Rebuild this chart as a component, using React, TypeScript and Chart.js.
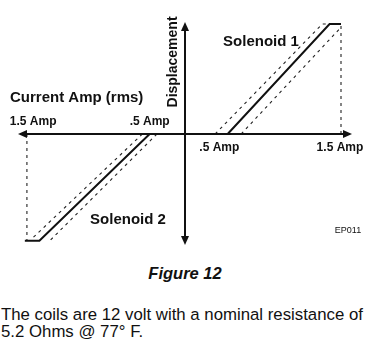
import React, { useEffect, useRef } from "react";
import { Chart, registerables } from "chart.js";

Chart.register(...registerables);

// Current (Amp rms) vs displacement (normalised)
const sol1Solid = [{ x: 0.41, y: 0 }, { x: 1.39, y: 1 }, { x: 1.5, y: 1 }];
const sol1Upper = [{ x: 0.29, y: 0 }, { x: 1.32, y: 1 }, { x: 1.5, y: 1 }];
const sol1Lower = [{ x: 0.54, y: 0 }, { x: 1.5, y: 0.97 }];
const sol1Limit = [{ x: 1.5, y: 0 }, { x: 1.5, y: 1 }];

const sol2Solid = [{ x: -0.34, y: 0 }, { x: -1.4, y: -0.97 }, { x: -1.54, y: -0.97 }];
const sol2Upper = [{ x: -0.41, y: 0 }, { x: -1.47, y: -0.95 }];
const sol2Lower = [{ x: -0.27, y: 0 }, { x: -1.3, y: -0.97 }];
const sol2Limit = [{ x: -1.52, y: 0 }, { x: -1.52, y: -0.97 }];

const xTickLabels = ["1.5 Amp", ".5 Amp", ".5 Amp", "1.5 Amp"];
const xTickValues = [-1.46, -0.34, 0.33, 1.49];
const seriesNames = ["Solenoid 1", "Solenoid 2"];
const xAxisTitle = "Current Amp (rms)";
const yAxisTitle = "Displacement";
const figureCode = "EP011";

const overlay = {
  id: "overlay",
  afterDatasetsDraw(chart: any) {
    const { ctx, scales } = chart;
    const sx = scales.x;
    const sy = scales.y;
    const X = (v: number) => sx.getPixelForValue(v);
    const Y = (v: number) => sy.getPixelForValue(v);
    ctx.save();
    ctx.strokeStyle = "#111";
    ctx.fillStyle = "#111";
    ctx.lineWidth = 2;
    // x axis
    const x0 = X(-1.606), x1 = X(1.606), yz = Y(0);
    ctx.beginPath();
    ctx.moveTo(x0 + 6, yz);
    ctx.lineTo(x1 - 6, yz);
    ctx.stroke();
    const head = (tx: number, ty: number, dx: number, dy: number) => {
      const L = 9, W = 4;
      const bx = tx - dx * L, by = ty - dy * L;
      ctx.beginPath();
      ctx.moveTo(tx, ty);
      ctx.lineTo(bx - dy * W, by + dx * W);
      ctx.lineTo(bx + dy * W, by - dx * W);
      ctx.closePath();
      ctx.fill();
    };
    head(x0, yz, -1, 0);
    head(x1, yz, 1, 0);
    // y axis
    const xz = X(0), y0 = Y(1.018), y1 = Y(-1.009);
    ctx.beginPath();
    ctx.moveTo(xz, y0 + 6);
    ctx.lineTo(xz, y1 - 6);
    ctx.stroke();
    head(xz, y0, 0, -1);
    head(xz, y1, 0, 1);

    // labels
    ctx.textBaseline = "middle";
    ctx.font = "bold 12px 'Liberation Sans', Arial, sans-serif";
    ctx.textAlign = "center";
    const tickY = [0.11, 0.11, -0.12, -0.12];
    xTickLabels.forEach((t, i) => ctx.fillText(t, X(xTickValues[i]), Y(tickY[i])));

    ctx.font = "bold 15px 'Liberation Sans', Arial, sans-serif";
    ctx.textAlign = "left";
    ctx.fillText(xAxisTitle, X(-1.683), Y(0.327));

    ctx.textAlign = "center";
    ctx.fillText(seriesNames[0], X(0.731), Y(0.836));
    ctx.fillText(seriesNames[1], X(-0.548), Y(-0.782));

    ctx.save();
    ctx.translate(X(-0.115), Y(0.655));
    ctx.rotate(-Math.PI / 2);
    ctx.font = "bold 14px 'Liberation Sans', Arial, sans-serif";
    ctx.fillText(yAxisTitle, 0, 0);
    ctx.restore();

    ctx.font = "9px 'Liberation Sans', Arial, sans-serif";
    ctx.fillText(figureCode, X(1.567), Y(-0.873));
    ctx.restore();
  },
};

export default function App() {
  const ref = useRef<HTMLCanvasElement>(null);
  useEffect(() => {
    document.body.style.margin = "0";
    document.body.style.background = "#fff";
    const solid = (data: any) => ({
      data,
      showLine: true,
      borderColor: "#111",
      borderWidth: 2,
      pointRadius: 0,
      fill: false,
    });
    const dashed = (data: any) => ({
      data,
      showLine: true,
      borderColor: "#222",
      borderWidth: 1.1,
      borderDash: [3, 4],
      pointRadius: 0,
      fill: false,
    });
    const chart = new Chart(ref.current!, {
      type: "scatter",
      data: {
        datasets: [
          solid(sol1Solid),
          dashed(sol1Upper),
          dashed(sol1Lower),
          dashed(sol1Limit),
          solid(sol2Solid),
          dashed(sol2Upper),
          dashed(sol2Lower),
          dashed(sol2Limit),
        ],
      },
      options: {
        animation: false,
        responsive: false,
        events: [],
        layout: { padding: 0 },
        plugins: { legend: { display: false }, tooltip: { enabled: false }, title: { display: false } },
        scales: {
          x: { type: "linear", display: false, min: -185 / 104, max: 185 / 104 },
          y: { type: "linear", display: false, min: -124 / 110, max: 134 / 110 },
        },
      },
      plugins: [overlay],
    });
    return () => chart.destroy();
  }, []);
  return (
    <div style={{ position: "relative", width: 370, height: 353, background: "#fff", fontFamily: "'Liberation Sans', Arial, sans-serif", color: "#111" }}>
      <canvas ref={ref} width={370} height={258} style={{ display: "block" }} />
      <div style={{ position: "absolute", left: 0, width: 370, top: 263, textAlign: "center", fontWeight: "bold", fontStyle: "italic", fontSize: 16.5, lineHeight: "20px" }}>
        Figure 12
      </div>
      <div style={{ position: "absolute", left: 1, width: 369, top: 306, fontSize: 16.8, lineHeight: "17px", whiteSpace: "nowrap" }}>
        The coils are 12 volt with a nominal resistance of
        <br />
        5.2 Ohms @ 77° F.
      </div>
    </div>
  );
}
